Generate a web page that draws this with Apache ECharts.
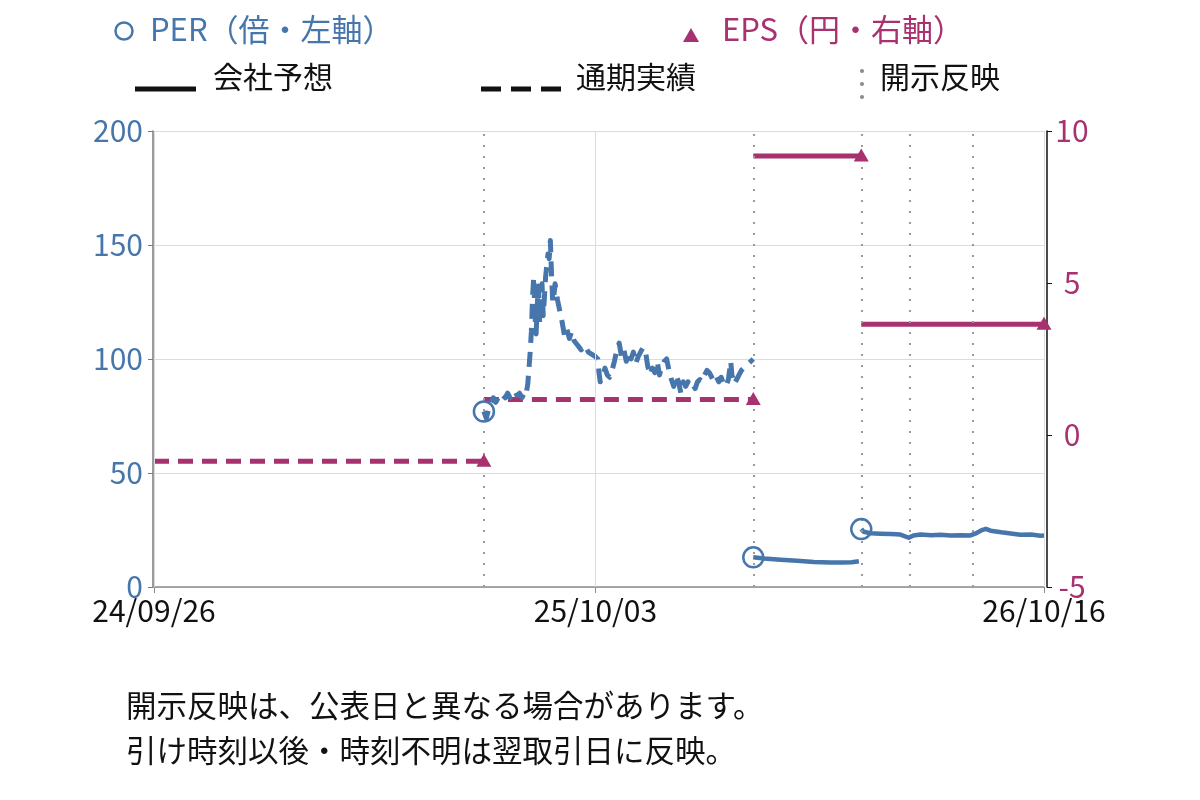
<!DOCTYPE html>
<html>
<head>
<meta charset="utf-8">
<script src="https://cdn.jsdelivr.net/npm/echarts@6/dist/echarts.min.js"></script>
<style>
  html, body { margin: 0; padding: 0; background: #fff; }
  #chart { width: 1200px; height: 800px; }
</style>
</head>
<body>
<div id="chart"></div>
<script>
const BLUE = "#4676ab";
const MAG = "#a8316f";
const FONT = '"Noto Sans CJK JP", "Noto Sans", sans-serif';

// x axis
const xMin = "2024-09-26";
const xMax = "2026-10-16";
const xTickDates = ["2024-09-26", "2025-10-03", "2026-10-16"];
const disclosureDates = ["2025-07-01", "2026-02-13", "2026-05-15", "2026-06-25", "2026-08-17"];

// PER（倍） 通期実績ベース（破線）
const perDates1 = [
  "2025-07-01", "2025-07-03", "2025-07-05", "2025-07-07", "2025-07-09", "2025-07-11", "2025-07-13", "2025-07-15",
  "2025-07-17", "2025-07-19", "2025-07-21", "2025-07-23", "2025-07-25", "2025-07-27", "2025-07-29", "2025-07-31",
  "2025-08-02", "2025-08-04", "2025-08-05", "2025-08-06", "2025-08-07", "2025-08-08", "2025-08-09", "2025-08-10",
  "2025-08-11", "2025-08-12", "2025-08-13", "2025-08-14", "2025-08-15", "2025-08-16", "2025-08-17", "2025-08-18",
  "2025-08-19", "2025-08-20", "2025-08-21", "2025-08-22", "2025-08-23", "2025-08-24", "2025-08-25", "2025-08-26",
  "2025-08-27", "2025-08-28", "2025-08-29", "2025-08-30", "2025-09-01", "2025-09-03", "2025-09-05", "2025-09-07",
  "2025-09-09", "2025-09-11", "2025-09-13", "2025-09-15", "2025-09-18", "2025-09-21", "2025-09-24", "2025-09-27",
  "2025-09-30", "2025-10-03", "2025-10-05", "2025-10-06", "2025-10-07", "2025-10-09", "2025-10-11", "2025-10-13",
  "2025-10-15", "2025-10-17", "2025-10-19", "2025-10-21", "2025-10-23", "2025-10-25", "2025-10-27", "2025-10-29",
  "2025-10-31", "2025-11-02", "2025-11-04", "2025-11-06", "2025-11-08", "2025-11-10", "2025-11-12", "2025-11-14",
  "2025-11-16", "2025-11-18", "2025-11-20", "2025-11-22", "2025-11-24", "2025-11-26", "2025-11-28", "2025-11-30",
  "2025-12-02", "2025-12-04", "2025-12-06", "2025-12-08", "2025-12-10", "2025-12-12", "2025-12-14", "2025-12-16",
  "2025-12-18", "2025-12-20", "2025-12-22", "2025-12-24", "2025-12-26", "2025-12-28", "2025-12-30", "2026-01-01",
  "2026-01-03", "2026-01-05", "2026-01-07", "2026-01-09", "2026-01-11", "2026-01-13", "2026-01-15", "2026-01-17",
  "2026-01-19", "2026-01-21", "2026-01-23", "2026-01-25", "2026-01-26", "2026-01-28", "2026-01-30", "2026-02-01",
  "2026-02-03", "2026-02-05", "2026-02-07", "2026-02-09", "2026-02-11", "2026-02-13"
];
const perValues1 = [
  77, 74, 78, 81, 83, 81, 83, 82,
  84, 83, 85, 83, 84, 86, 84, 85,
  83, 85, 84, 86, 89, 96, 103, 112,
  127, 136, 120, 111, 124, 132, 116, 127,
  133, 119, 127, 136, 141, 146, 144, 152,
  137, 125, 128, 133, 126, 121, 116, 110,
  113, 109, 112, 108, 106, 104, 106, 103,
  102, 101, 100, 94, 90, 92, 96, 93,
  92, 95, 99, 104, 107, 101, 104, 99,
  103, 100, 103, 98, 101, 103, 105, 104,
  97, 93, 96, 94, 99, 93, 97, 99,
  100, 95, 91, 88, 93, 90, 85, 90,
  88, 90, 88, 89, 87, 90, 91, 90,
  93, 95, 94, 92, 90, 92, 90, 92,
  89, 88, 91, 99, 93, 89, 91, 93,
  95, 96, 97, 98, 99, 100
];

// PER（倍） 会社予想ベース（実線）
const perDates2 = ["2026-02-13", "2026-02-22", "2026-03-08", "2026-03-22", "2026-04-05", "2026-04-19", "2026-04-29", "2026-05-07", "2026-05-13"];
const perValues2 = [13.0, 12.5, 12.0, 11.5, 11.0, 10.7, 10.8, 10.9, 11.3];
const perDates3 = [
  "2026-05-15", "2026-05-17", "2026-05-23", "2026-05-31", "2026-06-09", "2026-06-17", "2026-06-24", "2026-06-28",
  "2026-07-04", "2026-07-13", "2026-07-21", "2026-07-29", "2026-08-07", "2026-08-15", "2026-08-19", "2026-08-24",
  "2026-08-28", "2026-09-01", "2026-09-10", "2026-09-18", "2026-09-26", "2026-10-05", "2026-10-13", "2026-10-16"
];
const perValues3 = [
  25.4, 24.2, 23.6, 23.4, 23.2, 23.0, 21.6, 22.6,
  23.0, 22.7, 22.9, 22.6, 22.7, 22.6, 23.4, 24.8,
  25.5, 24.7, 24.0, 23.5, 22.9, 23.0, 22.5, 22.6
];

// EPS（円）
const epsFrom = ["2024-09-26", "2025-07-01", "2026-02-13", "2026-05-15"];
const epsTo = ["2025-07-01", "2026-02-13", "2026-05-15", "2026-10-16"];
const epsValues = [-0.86, 1.17, 9.18, 3.64];
const epsDashed = [true, true, false, false];

const t = (s) => {
  const [y, m, d] = s.split("-").map(Number);
  return new Date(y, m - 1, d).getTime();
};
const pad = (n) => String(n).padStart(2, "0");
const fmtDate = (v) => {
  const d = new Date(v);
  return `${pad(d.getFullYear() % 100)}/${pad(d.getMonth() + 1)}/${pad(d.getDate())}`;
};
const zip = (dates, vals) => dates.map((d, i) => [t(d), vals[i]]);

const perLine = (dates, vals, dashed) => ({
  type: "line",
  yAxisIndex: 0,
  data: zip(dates, vals),
  symbol: "none",
  z: 4,
  lineStyle: { color: BLUE, width: dashed ? 5 : 4.5, type: dashed ? [15, 9] : "solid", cap: "butt", join: "round" },
  silent: true,
  animation: false
});

const epsSeries = epsValues.map((v, i) => ({
  type: "line",
  yAxisIndex: 1,
  data: [[t(epsFrom[i]), v], [t(epsTo[i]), v]],
  symbol: "none",
  z: 3,
  lineStyle: { color: MAG, width: 5, type: epsDashed[i] ? [15, 9] : "solid", cap: "butt" },
  silent: true,
  animation: false
}));

const gridLines = {
  type: "line",
  data: [],
  z: 1,
  silent: true,
  animation: false,
  markLine: {
    symbol: "none",
    silent: true,
    label: { show: false },
    animation: false,
    data: [
      ...xTickDates.map((d) => ({ xAxis: t(d), lineStyle: { color: "#dcdcdc", width: 1, type: "solid" } })),
      ...disclosureDates.map((d) => ({ xAxis: t(d), lineStyle: { color: "#9a9a9a", width: 2, type: [2, 9] } }))
    ]
  }
};

const option = {
  backgroundColor: "#fff",
  animation: false,
  grid: { left: 154, right: 156, top: 131, bottom: 213 },
  xAxis: {
    type: "value",
    min: t(xMin),
    max: t(xMax),
    axisLine: { show: true, lineStyle: { color: "#8c8c8c", width: 1.5 } },
    axisTick: { show: true, customValues: xTickDates.map(t), length: 6, lineStyle: { color: "#8c8c8c" } },
    axisLabel: {
      customValues: xTickDates.map(t),
      formatter: (v) => fmtDate(v),
      color: "#111",
      fontSize: 30,
      fontFamily: FONT,
      margin: 9
    },
    splitLine: { show: false }
  },
  yAxis: [
    {
      type: "value",
      min: 0,
      max: 200,
      interval: 50,
      offset: 1,
      axisLine: { show: true, lineStyle: { color: "#7a7a7a", width: 1.5 } },
      axisTick: { show: true, length: 5, lineStyle: { color: "#7a7a7a" } },
      axisLabel: { color: BLUE, fontSize: 30, fontFamily: FONT, margin: 10 },
      splitLine: { show: true, lineStyle: { color: "#dcdcdc", width: 1 } }
    },
    {
      type: "value",
      min: -5,
      max: 10,
      interval: 5,
      offset: 3,
      position: "right",
      axisLine: { show: true, lineStyle: { color: "#111", width: 1.5 } },
      axisTick: { show: true, length: 5, lineStyle: { color: "#111" } },
      axisLabel: { color: MAG, fontSize: 30, fontFamily: FONT, margin: 25, align: "center" },
      splitLine: { show: false }
    }
  ],
  series: [
    gridLines,
    ...epsSeries,
    perLine(perDates1, perValues1, true),
    perLine(perDates2, perValues2, false),
    perLine(perDates3, perValues3, false),
    {
      type: "scatter",
      yAxisIndex: 0,
      data: [
        [t(perDates1[0]), perValues1[0]],
        [t(perDates2[0]), perValues2[0]],
        [t(perDates3[0]), perValues3[0]]
      ],
      symbol: "circle",
      symbolSize: 20,
      z: 5,
      itemStyle: { color: "rgba(255,255,255,0)", borderColor: BLUE, borderWidth: 2.5, opacity: 1 },
      silent: true
    },
    {
      type: "scatter",
      yAxisIndex: 1,
      data: epsValues.map((v, i) => [t(epsTo[i]), v]),
      symbol: "triangle",
      symbolSize: [15, 13],
      symbolOffset: [0, -1],
      z: 5,
      itemStyle: { color: MAG, opacity: 1 },
      silent: true
    }
  ],
  graphic: [
    { type: "circle", shape: { cx: 124, cy: 31, r: 8.5 }, style: { fill: "none", stroke: BLUE, lineWidth: 2.5 } },
    { type: "text", style: { text: "PER（倍・左軸）", x: 150, y: 29, fill: BLUE, fontSize: 31, fontFamily: FONT, verticalAlign: "middle" } },
    { type: "polygon", shape: { points: [[683, 42], [691, 28], [699, 42]] }, style: { fill: MAG } },
    { type: "text", style: { text: "EPS（円・右軸）", x: 722, y: 29, fill: MAG, fontSize: 31, fontFamily: FONT, verticalAlign: "middle" } },

    { type: "line", shape: { x1: 135, y1: 89, x2: 196, y2: 89 }, style: { stroke: "#111", lineWidth: 5 } },
    { type: "text", style: { text: "会社予想", x: 213, y: 77, fill: "#111", fontSize: 30, fontFamily: FONT, verticalAlign: "middle" } },
    { type: "line", shape: { x1: 481, y1: 89, x2: 561, y2: 89 }, style: { stroke: "#111", lineWidth: 5, lineDash: [20, 10] } },
    { type: "text", style: { text: "通期実績", x: 576, y: 77, fill: "#111", fontSize: 30, fontFamily: FONT, verticalAlign: "middle" } },
    { type: "circle", shape: { cx: 862, cy: 71, r: 2 }, style: { fill: "#8a8a8a" } },
    { type: "circle", shape: { cx: 862, cy: 84, r: 2 }, style: { fill: "#8a8a8a" } },
    { type: "circle", shape: { cx: 862, cy: 97, r: 2 }, style: { fill: "#8a8a8a" } },
    { type: "text", style: { text: "開示反映", x: 880, y: 77, fill: "#111", fontSize: 30, fontFamily: FONT, verticalAlign: "middle" } },

    { type: "text", style: { text: "開示反映は、公表日と異なる場合があります。", x: 126, y: 705, fill: "#111", fontSize: 30.5, fontFamily: FONT, verticalAlign: "middle" } },
    { type: "text", style: { text: "引け時刻以後・時刻不明は翌取引日に反映。", x: 126, y: 750, fill: "#111", fontSize: 30.5, fontFamily: FONT, verticalAlign: "middle" } }
  ]
};

const chart = echarts.init(document.getElementById("chart"), null, { renderer: "canvas" });
chart.setOption(option);
</script>
</body>
</html>
